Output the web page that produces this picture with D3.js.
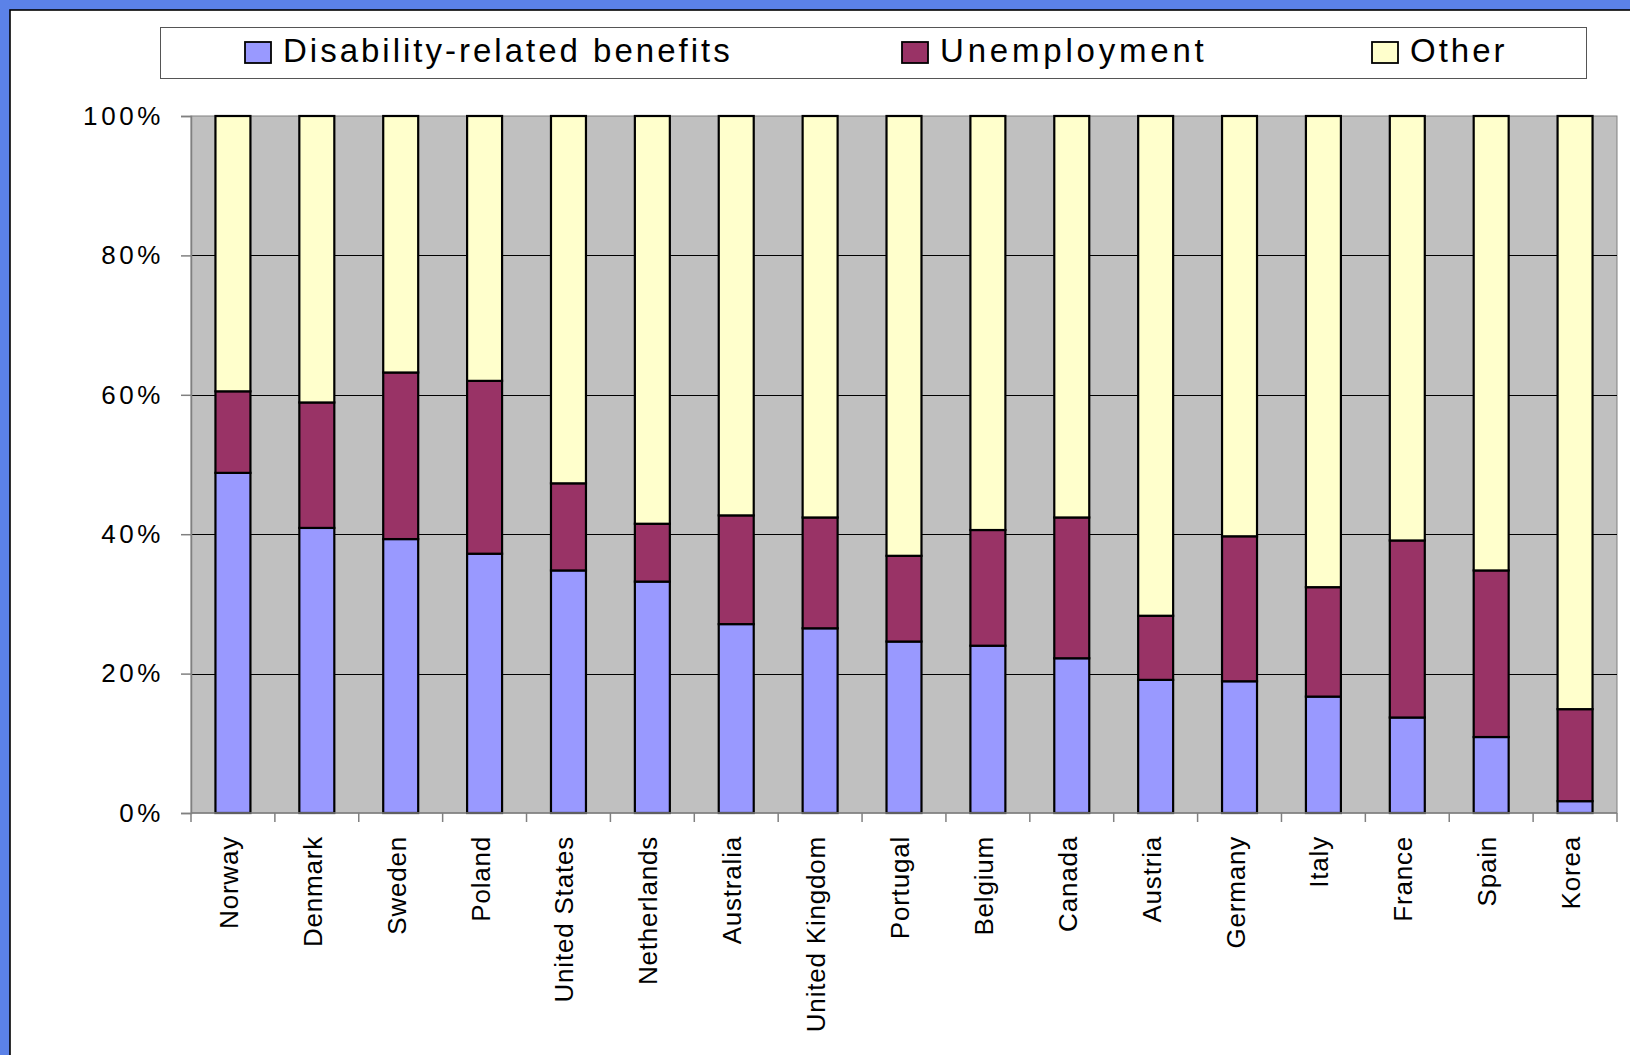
<!DOCTYPE html>
<html>
<head>
<meta charset="utf-8">
<script src="https://cdn.jsdelivr.net/npm/d3@7"></script>
<style>
  html, body { margin: 0; padding: 0; background: #5B82E8; }
  svg { display: block; }
  text { font-family: Arial, "Liberation Sans", sans-serif; fill: #000; }
</style>
</head>
<body>
<svg id="chart" width="1630" height="1055"></svg>
<script>
const categories = ["Norway","Denmark","Sweden","Poland","United States","Netherlands","Australia","United Kingdom","Portugal","Belgium","Canada","Austria","Germany","Italy","France","Spain","Korea"];
const disability   = [48.8, 40.9, 39.3, 37.2, 34.8, 33.2, 27.1, 26.5, 24.6, 24.0, 22.2, 19.1, 18.9, 16.7, 13.7, 10.9, 1.7];
const unemployment = [11.7, 18.0, 23.9, 24.8, 12.5,  8.3, 15.6, 15.9, 12.3, 16.6, 20.2,  9.2, 20.8, 15.7, 25.4, 23.9, 13.2];
const other        = [39.5, 41.1, 36.8, 38.0, 52.7, 58.5, 57.3, 57.6, 63.1, 59.4, 57.6, 71.7, 60.3, 67.6, 60.9, 65.2, 85.1];
const seriesNames  = ["Disability-related benefits", "Unemployment", "Other"];
const seriesColors = ["#9999FF", "#993366", "#FFFFCC"];
const yTickValues  = [0, 20, 40, 60, 80, 100];
const yTickLabels  = ["0%", "20%", "40%", "60%", "80%", "100%"];

const svg = d3.select("#chart");
const W = 1630, H = 1055;

// frame
svg.append("rect").attr("x", 0).attr("y", 0).attr("width", W).attr("height", H).attr("fill", "#5B82E8");
svg.append("rect").attr("x", 10).attr("y", 10).attr("width", W + 10).attr("height", H + 10)
  .attr("fill", "#fff").attr("stroke", "#000").attr("stroke-width", 1.6);

const plot = { left: 191, right: 1617, top: 116, bottom: 813 };

const x = d3.scaleBand().domain(categories).range([plot.left, plot.right])
  .paddingInner(0.583).paddingOuter(0.2915);
const y = d3.scaleLinear().domain([0, 100]).range([plot.bottom, plot.top]);

// plot background
svg.append("rect").attr("x", plot.left).attr("y", plot.top)
  .attr("width", plot.right - plot.left).attr("height", plot.bottom - plot.top)
  .attr("fill", "#C0C0C0").attr("stroke", "#808080").attr("stroke-width", 1);

// gridlines
svg.append("g").selectAll("line").data(yTickValues.filter(d => d > 0 && d < 100)).join("line")
  .attr("x1", plot.left).attr("x2", plot.right)
  .attr("y1", d => Math.round(y(d)) + 0.5).attr("y2", d => Math.round(y(d)) + 0.5)
  .attr("stroke", "#000").attr("stroke-width", 1);

// stacked data
const table = categories.map((c, i) => ({ cat: c, d: disability[i], u: unemployment[i], o: other[i] }));
const stack = d3.stack().keys(["d", "u", "o"]);
const layers = stack(table);

svg.append("g").selectAll("g").data(layers).join("g")
  .attr("fill", (d, i) => seriesColors[i])
  .selectAll("rect").data(d => d).join("rect")
  .attr("x", d => x(d.data.cat))
  .attr("width", x.bandwidth())
  .attr("y", d => y(d[1]))
  .attr("height", d => y(d[0]) - y(d[1]))
  .attr("stroke", "#000").attr("stroke-width", 2.2);

// y axis
const yAxis = svg.append("g").attr("transform", `translate(${plot.left},0)`)
  .call(d3.axisLeft(y).tickValues(yTickValues)
    .tickFormat((d, i) => yTickLabels[i]).tickSize(10).tickPadding(17));
yAxis.select(".domain").attr("stroke", "#808080").attr("stroke-width", 1.5);
yAxis.selectAll(".tick line").attr("stroke", "#808080").attr("stroke-width", 1.5);
yAxis.selectAll(".tick text").style("font-size", "26px").style("letter-spacing", "3.6px")
  .style("font-family", "Arial, 'Liberation Sans', sans-serif");

// x axis baseline + boundary ticks
const step = x.step();
const bounds = d3.range(categories.length + 1).map(i => plot.left + i * step);
svg.append("line").attr("x1", plot.left).attr("x2", plot.right)
  .attr("y1", plot.bottom).attr("y2", plot.bottom).attr("stroke", "#808080").attr("stroke-width", 1.5);
svg.append("g").selectAll("line").data(bounds).join("line")
  .attr("x1", d => d).attr("x2", d => d)
  .attr("y1", plot.bottom).attr("y2", plot.bottom + 9)
  .attr("stroke", "#808080").attr("stroke-width", 1.5);

// x labels via axis
const xAxis = svg.append("g").attr("transform", `translate(0,${plot.bottom})`)
  .call(d3.axisBottom(x).tickSize(0));
xAxis.select(".domain").remove();
xAxis.selectAll(".tick text")
  .attr("transform", "rotate(-90)")
  .attr("x", -23).attr("y", 5).attr("dy", 0)
  .style("text-anchor", "end")
  .style("font-size", "26px").style("letter-spacing", "0.8px")
  .style("font-family", "Arial, 'Liberation Sans', sans-serif");

// legend
svg.append("rect").attr("x", 160.5).attr("y", 27.5).attr("width", 1426).attr("height", 51)
  .attr("fill", "#fff").attr("stroke", "#555").attr("stroke-width", 1);
const legendX = [245, 902, 1372];
const legendSpacing = [3, 3.8, 3];
const lg = svg.append("g").selectAll("g").data(seriesNames).join("g")
  .attr("transform", (d, i) => `translate(${legendX[i]},0)`);
lg.append("rect").attr("x", 0).attr("y", 42).attr("width", 26).attr("height", 21)
  .attr("fill", (d, i) => seriesColors[i]).attr("stroke", "#000").attr("stroke-width", 1.8);
lg.append("text").attr("x", 38).attr("y", 62).text(d => d)
  .style("font-size", "33px").style("letter-spacing", (d, i) => legendSpacing[i] + "px");
</script>
</body>
</html>
